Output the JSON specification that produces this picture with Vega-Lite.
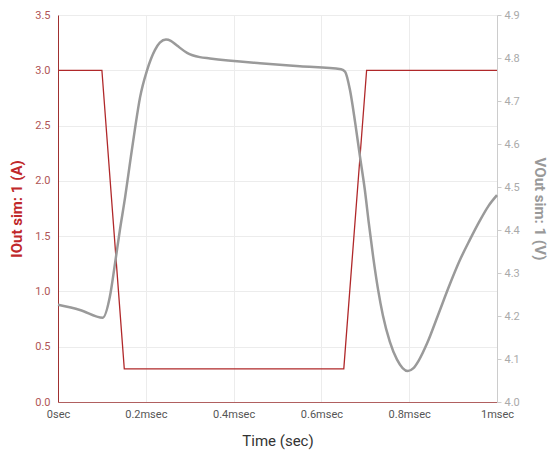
{
  "$schema": "https://vega.github.io/schema/vega-lite/v6.json",
  "width": 439,
  "height": 387,
  "autosize": {"type": "none"},
  "padding": {"left": 58, "top": 15, "right": 56, "bottom": 57},
  "background": "white",
  "config": {
    "font": "Roboto",
    "view": {"stroke": null},
    "axis": {"gridColor": "#ececec", "labelFont": "Roboto", "titleFont": "Roboto"}
  },
  "datasets": {
    "iout": [
      {"t": 0, "I": 3.0},
      {"t": 0.1, "I": 3.0},
      {"t": 0.151, "I": 0.3},
      {"t": 0.651, "I": 0.3},
      {"t": 0.703, "I": 3.0},
      {"t": 1.0, "I": 3.0}
    ],
    "vout": [
      {"t": 0.0, "V": 4.226},
      {"t": 0.05, "V": 4.214},
      {"t": 0.102, "V": 4.196},
      {"t": 0.118, "V": 4.244},
      {"t": 0.13, "V": 4.323},
      {"t": 0.141, "V": 4.4},
      {"t": 0.153, "V": 4.477},
      {"t": 0.164, "V": 4.556},
      {"t": 0.175, "V": 4.633},
      {"t": 0.187, "V": 4.709},
      {"t": 0.203, "V": 4.772},
      {"t": 0.221, "V": 4.819},
      {"t": 0.232, "V": 4.836},
      {"t": 0.246, "V": 4.843},
      {"t": 0.257, "V": 4.84},
      {"t": 0.271, "V": 4.829},
      {"t": 0.294, "V": 4.812},
      {"t": 0.323, "V": 4.802},
      {"t": 0.346, "V": 4.799},
      {"t": 0.46, "V": 4.788},
      {"t": 0.551, "V": 4.781},
      {"t": 0.645, "V": 4.774},
      {"t": 0.654, "V": 4.768},
      {"t": 0.665, "V": 4.726},
      {"t": 0.677, "V": 4.649},
      {"t": 0.688, "V": 4.57},
      {"t": 0.699, "V": 4.493},
      {"t": 0.708, "V": 4.416},
      {"t": 0.718, "V": 4.337},
      {"t": 0.729, "V": 4.262},
      {"t": 0.74, "V": 4.202},
      {"t": 0.756, "V": 4.14},
      {"t": 0.772, "V": 4.099},
      {"t": 0.785, "V": 4.079},
      {"t": 0.797, "V": 4.072},
      {"t": 0.809, "V": 4.078},
      {"t": 0.822, "V": 4.097},
      {"t": 0.841, "V": 4.137},
      {"t": 0.866, "V": 4.203},
      {"t": 0.893, "V": 4.275},
      {"t": 0.915, "V": 4.329},
      {"t": 0.938, "V": 4.377},
      {"t": 0.96, "V": 4.42},
      {"t": 0.98, "V": 4.455},
      {"t": 1.0, "V": 4.481}
    ]
  },
  "encoding": {
    "x": {
      "field": "t",
      "type": "quantitative",
      "scale": {"domain": [0, 1], "nice": false, "zero": false},
      "axis": {
        "title": "Time (sec)",
        "titleFontSize": 15,
        "titleFontWeight": "normal",
        "titleColor": "#333",
        "titlePadding": 14,
        "values": [0, 0.2, 0.4, 0.6, 0.8, 1],
        "labelExpr": "datum.value == 0 ? '0sec' : datum.value + 'msec'",
        "labelColor": "#555",
        "labelFontSize": 11,
        "labelPadding": 6,
        "labelFlush": false,
        "ticks": false,
        "domainColor": "#b06060",
        "grid": true
      }
    }
  },
  "layer": [
    {
      "data": {"name": "iout"},
      "mark": {"type": "line", "color": "#b0282a", "strokeWidth": 1.3},
      "encoding": {
        "y": {
          "field": "I",
          "type": "quantitative",
          "scale": {"domain": [0, 3.5], "nice": false},
          "axis": {
            "title": "IOut sim: 1 (A)",
            "titleColor": "#c0282a",
            "titleFontSize": 15,
            "titleFontWeight": "bold",
            "titlePadding": 10,
            "values": [0, 0.5, 1, 1.5, 2, 2.5, 3, 3.5],
            "format": ".1f",
            "labelColor": "#b05555",
            "labelFontSize": 11,
            "labelPadding": 8,
            "ticks": false,
            "domainColor": "#a03030",
            "grid": true,
            "orient": "left"
          }
        }
      }
    },
    {
      "data": {"name": "vout"},
      "mark": {"type": "line", "color": "#9a9a9a", "strokeWidth": 2.5, "interpolate": "monotone"},
      "encoding": {
        "y": {
          "field": "V",
          "type": "quantitative",
          "scale": {"domain": [4.0, 4.9], "nice": false, "zero": false},
          "axis": {
            "title": "VOut sim: 1 (V)",
            "titleColor": "#999999",
            "titleFontSize": 15,
            "titleFontWeight": "bold",
            "titlePadding": 12,
            "values": [4.0, 4.1, 4.2, 4.3, 4.4, 4.5, 4.6, 4.7, 4.8, 4.9],
            "format": ".1f",
            "labelColor": "#aaaaaa",
            "labelFontSize": 11,
            "labelPadding": 3,
            "tickSize": 4,
            "tickColor": "#cccccc",
            "domainColor": "#cccccc",
            "grid": false,
            "orient": "right"
          }
        }
      }
    }
  ],
  "resolve": {"scale": {"y": "independent"}}
}
